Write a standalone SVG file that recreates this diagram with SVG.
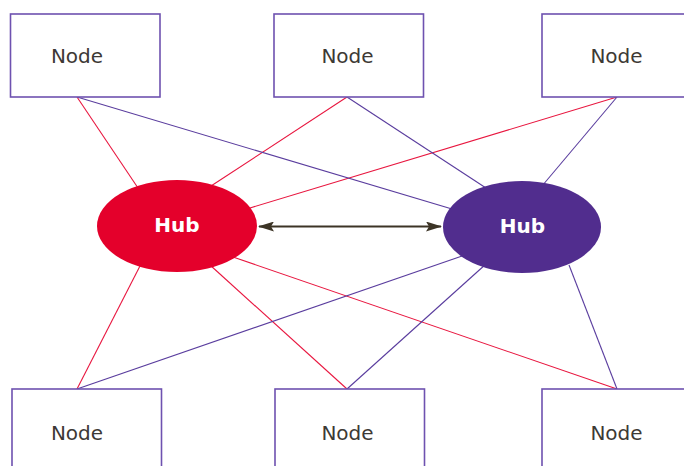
<svg xmlns="http://www.w3.org/2000/svg" width="684" height="466" viewBox="0 0 684 466">
  <defs>
    <style>
      .node rect { fill: #ffffff; stroke: #6e52b0; stroke-width: 1.6; }
      .node text { font-family: "DejaVu Sans", Verdana, sans-serif; font-size: 20px; fill: #3d3935; text-anchor: middle; }
      .hub text { font-family: "DejaVu Sans", Verdana, sans-serif; font-size: 20px; font-weight: bold; fill: #ffffff; text-anchor: middle; }
      .red { stroke: #e8163f; stroke-width: 1.1; fill: none; }
      .purple { stroke: #5a3d9e; stroke-width: 1.1; fill: none; }
      .link { stroke: #3c3426; stroke-width: 1.8; fill: none; }
    </style>
    <marker id="head" viewBox="0 0 16 10" refX="15" refY="5" markerWidth="16" markerHeight="10" markerUnits="userSpaceOnUse" orient="auto-start-reverse">
      <path d="M0,0 L16,5 L0,10 L3,5 Z" fill="#3c3426"/>
    </marker>
  </defs>
  <rect width="684" height="466" fill="#ffffff"/>

  <g id="connectors">
    <!-- red hub spokes -->
    <line class="red" x1="77" y1="97" x2="138" y2="188"/>
    <line class="red" x1="347" y1="97" x2="211" y2="186"/>
    <line class="red" x1="617" y1="97" x2="250" y2="208"/>
    <line class="red" x1="77" y1="389" x2="141" y2="264"/>
    <line class="red" x1="347" y1="389" x2="210" y2="265"/>
    <line class="red" x1="617" y1="389" x2="233" y2="257"/>
    <!-- purple hub spokes -->
    <line class="purple" x1="77" y1="97" x2="452" y2="209"/>
    <line class="purple" x1="347" y1="97" x2="486" y2="188"/>
    <line class="purple" x1="617" y1="97" x2="542" y2="186"/>
    <line class="purple" x1="77" y1="389" x2="465" y2="255"/>
    <line class="purple" x1="347" y1="389" x2="486" y2="264"/>
    <line class="purple" x1="617" y1="389" x2="569" y2="265"/>
    <!-- hub to hub -->
    <line class="link" x1="259" y1="226.5" x2="441" y2="226.5" marker-start="url(#head)" marker-end="url(#head)"/>
  </g>

  <g id="hub-red" class="hub">
    <ellipse cx="177" cy="226" rx="80" ry="46" fill="#e4002b"/>
    <text x="177" y="232">Hub</text>
  </g>
  <g id="hub-purple" class="hub">
    <ellipse cx="522" cy="227" rx="79" ry="46" fill="#512d8e"/>
    <text x="522.5" y="233">Hub</text>
  </g>

  <g id="node-top-left" class="node">
    <rect x="10.5" y="14" width="149.5" height="83"/>
    <text x="77" y="63">Node</text>
  </g>
  <g id="node-top-middle" class="node">
    <rect x="274" y="14" width="149.5" height="83"/>
    <text x="347.5" y="63">Node</text>
  </g>
  <g id="node-top-right" class="node">
    <rect x="542" y="14" width="149.5" height="83"/>
    <text x="616.5" y="63">Node</text>
  </g>
  <g id="node-bottom-left" class="node">
    <rect x="12" y="389" width="149.5" height="83"/>
    <text x="77" y="439.5">Node</text>
  </g>
  <g id="node-bottom-middle" class="node">
    <rect x="275" y="389" width="149.5" height="83"/>
    <text x="347.5" y="439.5">Node</text>
  </g>
  <g id="node-bottom-right" class="node">
    <rect x="542" y="389" width="149.5" height="83"/>
    <text x="616.5" y="439.5">Node</text>
  </g>
</svg>
